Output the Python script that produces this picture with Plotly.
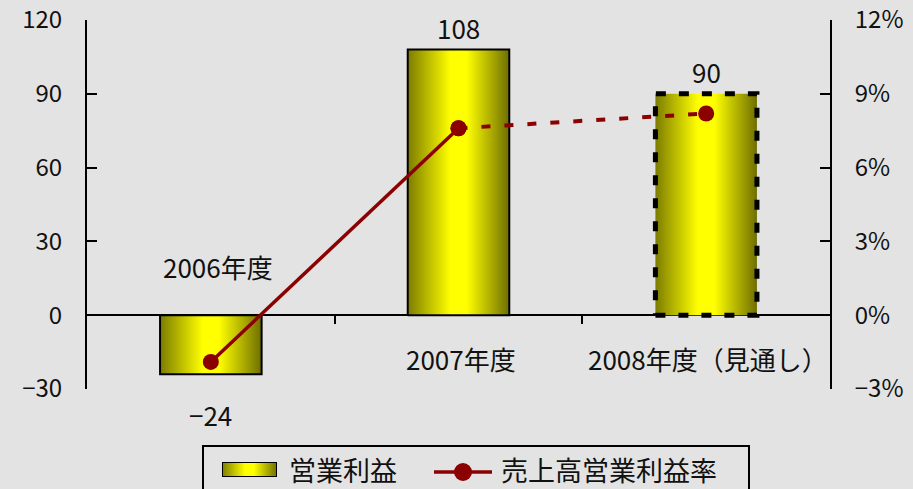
import plotly.graph_objects as go

# ---- data ----
categories = ["2006年度", "2007年度", "2008年度（見通し）"]
operating_profit = [-24, 108, 90]          # 営業利益 (left axis)
profit_margin = [-1.9, 7.6, 8.2]           # 売上高営業利益率 (%) (right axis)
left_ticks = [-30, 0, 30, 60, 90, 120]
right_ticks = [-3, 0, 3, 6, 9, 12]
bar_name = "営業利益"
line_name = "売上高営業利益率"

FONT = "Noto Sans CJK JP"
BG = "#e3e3e3"
RED = "#8b0000"
TXT = "#111111"
GRAD = [[0, "#7c7c00"], [0.42, "#ffff00"], [0.58, "#ffff00"], [1, "#6e6e00"]]
HALF = 0.205

W, H = 913, 489
ML, MR, MT, MB = 87, 83, 20, 0
PLOT_BOTTOM = 389


def px_x(p):
    return (p - ML) / (W - ML - MR)


def px_y(p):
    return (H - MB - p) / (H - MT - MB)


Y_DOMAIN = [px_y(PLOT_BOTTOM), 1]
ZERO_POS = Y_DOMAIN[0] + (0 - left_ticks[0]) / (left_ticks[-1] - left_ticks[0]) * (1 - Y_DOMAIN[0])

fig = go.Figure()

# bars as gradient-filled polygons (scatter fill toself), built from the data
for i, v in enumerate(operating_profit):
    xs = [i - HALF, i + HALF, i + HALF, i - HALF, i - HALF]
    ys = [0, 0, v, v, 0]
    forecast = (i == len(operating_profit) - 1)
    fig.add_trace(go.Scatter(
        x=xs, y=ys, mode="lines", fill="toself",
        fillgradient=dict(type="horizontal", colorscale=GRAD),
        line=dict(color="black", width=5 if forecast else 2,
                  dash="10px,13px" if forecast else "solid"),
        showlegend=False, hoverinfo="skip",
    ))

# profit margin line (solid for actuals, dashed for forecast)
fig.add_trace(go.Scatter(
    x=[1, 2], y=profit_margin[1:3], yaxis="y2", mode="lines+markers",
    line=dict(color=RED, width=4, dash="9px,14px"),
    marker=dict(size=16, color=RED), showlegend=False,
))
fig.add_trace(go.Scatter(
    x=[0, 1], y=profit_margin[0:2], yaxis="y2", mode="lines+markers",
    line=dict(color=RED, width=3.5),
    marker=dict(size=16, color=RED), showlegend=False,
))

# legend swatch for the bars (gradient box on its own small axes)
fig.add_trace(go.Scatter(
    x=[0, 1, 1, 0, 0], y=[0, 0, 1, 1, 0], xaxis="x3", yaxis="y3",
    mode="lines", fill="toself",
    fillgradient=dict(type="horizontal", colorscale=GRAD),
    line=dict(color="black", width=2), showlegend=False, hoverinfo="skip",
))

annotations = []
# data labels
for i, v in enumerate(operating_profit):
    label = str(v).replace("-", "−")
    if v >= 0:
        annotations.append(dict(x=i, y=v, text=label, showarrow=False,
                                yanchor="bottom", yshift=2,
                                font=dict(size=26, color=TXT, family=FONT)))
    else:
        annotations.append(dict(x=i, y=v, text=label, showarrow=False,
                                yanchor="top", yshift=-20,
                                font=dict(size=26, color=TXT, family=FONT)))
# category labels
for i, c in enumerate(categories):
    above = operating_profit[i] < 0
    annotations.append(dict(x=i, y=0, text=c, showarrow=False,
                            xshift=7 if above else 2,
                            yanchor="middle", yshift=49 if above else -43,
                            font=dict(size=26, color=TXT, family=FONT)))
# legend texts
for name, left in ((bar_name, 287), (line_name, 499)):
    annotations.append(dict(xref="paper", yref="paper", x=px_x(left), y=px_y(469),
                            xanchor="left", yanchor="middle", text=name,
                            showarrow=False,
                            font=dict(size=27, color=TXT, family=FONT)))

shapes = [
    # legend frame
    dict(type="rect", xref="paper", yref="paper",
         x0=px_x(203), x1=px_x(749), y0=px_y(500), y1=px_y(446),
         line=dict(color="black", width=2), fillcolor="rgba(0,0,0,0)", layer="below"),
    # legend line symbol
    dict(type="line", xref="paper", yref="paper",
         x0=px_x(434), x1=px_x(492), y0=px_y(472), y1=px_y(472),
         line=dict(color=RED, width=3.5)),
    dict(type="circle", xref="paper", yref="paper", xsizemode="pixel", ysizemode="pixel",
         xanchor=px_x(463), yanchor=px_y(472), x0=-9, x1=9, y0=-9, y1=9,
         line=dict(color=RED, width=0), fillcolor=RED),
]

fig.update_layout(
    width=W, height=H,
    margin=dict(l=ML, r=MR, t=MT, b=MB, autoexpand=False),
    paper_bgcolor=BG, plot_bgcolor=BG,
    font=dict(family=FONT, size=26, color=TXT),
    xaxis=dict(range=[-0.5, 2.5], showgrid=False, zeroline=False, showline=False,
               tickvals=[0.5, 1.5], ticks="outside", ticklen=8, tickwidth=1.5,
               tickcolor="black", showticklabels=False, anchor="free",
               position=ZERO_POS, fixedrange=True),
    yaxis=dict(domain=Y_DOMAIN, range=[-30, 120.001], tickvals=left_ticks,
               ticks="inside", ticklen=10, ticklabeloverflow="allow",
               tickwidth=1.5, tickcolor="black", showline=True, linewidth=2,
               linecolor="black", showgrid=False, zeroline=True,
               zerolinecolor="black", zerolinewidth=1.5, ticklabelstandoff=18,
               tickfont=dict(size=24, family=FONT, color=TXT)),
    yaxis2=dict(domain=Y_DOMAIN, range=[-3, 12.0001], tickvals=right_ticks,
                ticktext=[f"{t}%".replace("-", "−") for t in right_ticks],
                overlaying="y", side="right", ticks="inside", ticklen=10,
                ticklabeloverflow="allow",
                tickwidth=1.5, tickcolor="black", showline=True, linewidth=2,
                linecolor="black", showgrid=False, zeroline=False,
                ticklabelstandoff=18, tickfont=dict(size=24, family=FONT, color=TXT)),
    xaxis3=dict(domain=[px_x(222), px_x(277)], range=[0, 1], visible=False,
                anchor="y3", fixedrange=True),
    yaxis3=dict(domain=[px_y(477), px_y(462)], range=[0, 1], visible=False,
                anchor="x3", fixedrange=True),
    annotations=annotations,
    shapes=shapes,
    showlegend=False,
)

fig.write_html("out.html")
